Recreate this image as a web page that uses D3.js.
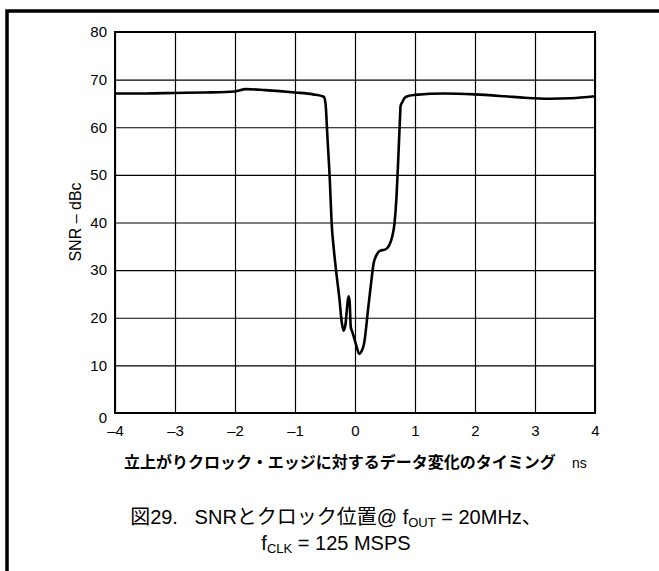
<!DOCTYPE html>
<html>
<head>
<meta charset="utf-8">
<script src="https://cdn.jsdelivr.net/npm/d3@7"></script>
<style>
  body { margin: 0; background: #fff; }
  text { font-family: "Liberation Sans", Arial, "Noto Sans CJK JP", sans-serif; fill: #000; }
  .jp { font-family: "Noto Sans CJK JP", sans-serif; }
</style>
</head>
<body>
<div id="chart-container"></div>
<script>
// timing of data change vs rising clock edge (ns)
let timeNs = [-4.0, -3.5, -3.0, -2.5, -2.0, -1.82, -1.5, -1.0, -0.7, -0.52, -0.49, -0.46, -0.42, -0.39,
  -0.35, -0.31, -0.26, -0.22, -0.19, -0.16, -0.14, -0.11, -0.09, -0.07, -0.05, -0.02, 0.03, 0.07,
  0.11, 0.15, 0.22, 0.27, 0.31, 0.36, 0.42, 0.5, 0.56, 0.62, 0.66, 0.69, 0.72, 0.75, 0.76, 0.79,
  0.83, 0.9, 1.0, 1.5, 2.0, 2.5, 2.83, 3.25, 3.6, 4.0];
// SNR (dBc)
let snr = [67.1, 67.1, 67.2, 67.3, 67.5, 68.0, 67.8, 67.3, 66.9, 66.4, 64.8, 58, 49, 40,
  34, 29.3, 24, 19, 17.3, 18.5, 21, 24.5, 23.5, 18, 17.2, 16, 13.8, 12.4,
  13, 14.5, 22, 27.5, 31.4, 33.2, 34.1, 34.3, 35, 37, 40, 45, 53, 62, 64.5, 65.3,
  66.2, 66.6, 66.8, 67.1, 66.9, 66.5, 66.2, 66.0, 66.1, 66.5];

let xTicks = [-4, -3, -2, -1, 0, 1, 2, 3, 4];
let yTicks = [0, 10, 20, 30, 40, 50, 60, 70, 80];

let yLabel = "SNR – dBc";
let xLabel = "立上がりクロック・エッジに対するデータ変化のタイミング";
let xUnit = "ns";

document.addEventListener('DOMContentLoaded', function(){
  drawChart();
});

function drawChart(){
  let svgWidth = 659;
  let svgHeight = 571;
  let left = 115, right = 595, top = 32, bottom = 413;

  let svg = d3.select('#chart-container')
    .append('svg')
    .attr('width', svgWidth)
    .attr('height', svgHeight);

  //outer frame (top and left edges only are visible)
  svg.append("path")
    .attr("d", "M7,571 L7,11 L659,11")
    .attr("fill", "none")
    .attr("stroke", "#000")
    .attr("stroke-width", 3.5);

  let xScale = d3.scaleLinear().domain([-4, 4]).range([left, right]);
  let yScale = d3.scaleLinear().domain([0, 80]).range([bottom, top]);

  let dash = d => d < 0 ? "–" + (-d) : "" + d;

  //x grid + labels
  let xAxis = d3.axisBottom(xScale)
    .tickValues(xTicks)
    .tickSize(-(bottom - top))
    .tickPadding(12)
    .tickFormat(dash);

  let gx = svg.append("g")
    .attr("transform", "translate(0," + bottom + ")")
    .call(xAxis);
  gx.select(".domain").remove();
  gx.selectAll(".tick line").attr("stroke", "#000").attr("stroke-width", 1.2);
  gx.selectAll(".tick text").style("font-size", "15px");

  //y grid + labels
  let yAxis = d3.axisLeft(yScale)
    .tickValues(yTicks)
    .tickSize(-(right - left))
    .tickPadding(8)
    .tickFormat(dash);

  let gy = svg.append("g")
    .attr("transform", "translate(" + left + ",0)")
    .call(yAxis);
  gy.select(".domain").remove();
  gy.selectAll(".tick line").attr("stroke", "#000").attr("stroke-width", 1.2);
  gy.selectAll(".tick text").style("font-size", "15px")
    .attr("dy", d => d === 0 ? "0.6em" : "0.32em");

  //plot border
  svg.append("rect")
    .attr("x", left)
    .attr("y", top)
    .attr("width", right - left)
    .attr("height", bottom - top)
    .attr("fill", "none")
    .attr("stroke", "#000")
    .attr("stroke-width", 2);

  //curve
  let line = d3.line()
    .x((d, i) => xScale(timeNs[i]))
    .y(d => yScale(d))
    .curve(d3.curveMonotoneX);

  svg.append("path")
    .datum(snr)
    .attr("d", line)
    .attr("fill", "none")
    .attr("stroke", "#000")
    .attr("stroke-width", 2.6)
    .attr("stroke-linejoin", "round");

  //y axis title
  svg.append("text")
    .text(yLabel)
    .attr("transform", "translate(81,222) rotate(-90)")
    .attr("text-anchor", "middle")
    .style("font-size", "16px");

  //x axis title
  svg.append("text")
    .attr("class", "jp")
    .text(xLabel)
    .attr("x", 124)
    .attr("y", 468)
    .style("font-size", "16px")
    .style("font-weight", "bold");

  svg.append("text")
    .text(xUnit)
    .attr("x", 572)
    .attr("y", 468)
    .style("font-size", "14px");

  //caption, each line centred
  let capX = 336;
  let cap1 = svg.append("text")
    .attr("x", capX)
    .attr("y", 524)
    .attr("text-anchor", "middle")
    .style("font-size", "20px");
  cap1.append("tspan").attr("class", "jp").text("図");
  cap1.append("tspan").text("29.\u00a0\u00a0\u00a0SNR");
  cap1.append("tspan").attr("class", "jp").text("とクロック位置");
  cap1.append("tspan").text("@ f");
  cap1.append("tspan").attr("dy", 3).style("font-size", "13px").text("OUT");
  cap1.append("tspan").attr("dy", -3).text(" = 20MHz");
  cap1.append("tspan").attr("class", "jp").text("、");

  let cap2 = svg.append("text")
    .attr("x", capX)
    .attr("y", 550)
    .attr("text-anchor", "middle")
    .style("font-size", "20px");
  cap2.append("tspan").text("f");
  cap2.append("tspan").attr("dy", 3).style("font-size", "13px").text("CLK");
  cap2.append("tspan").attr("dy", -3).text(" = 125 MSPS");
}
</script>
</body>
</html>
